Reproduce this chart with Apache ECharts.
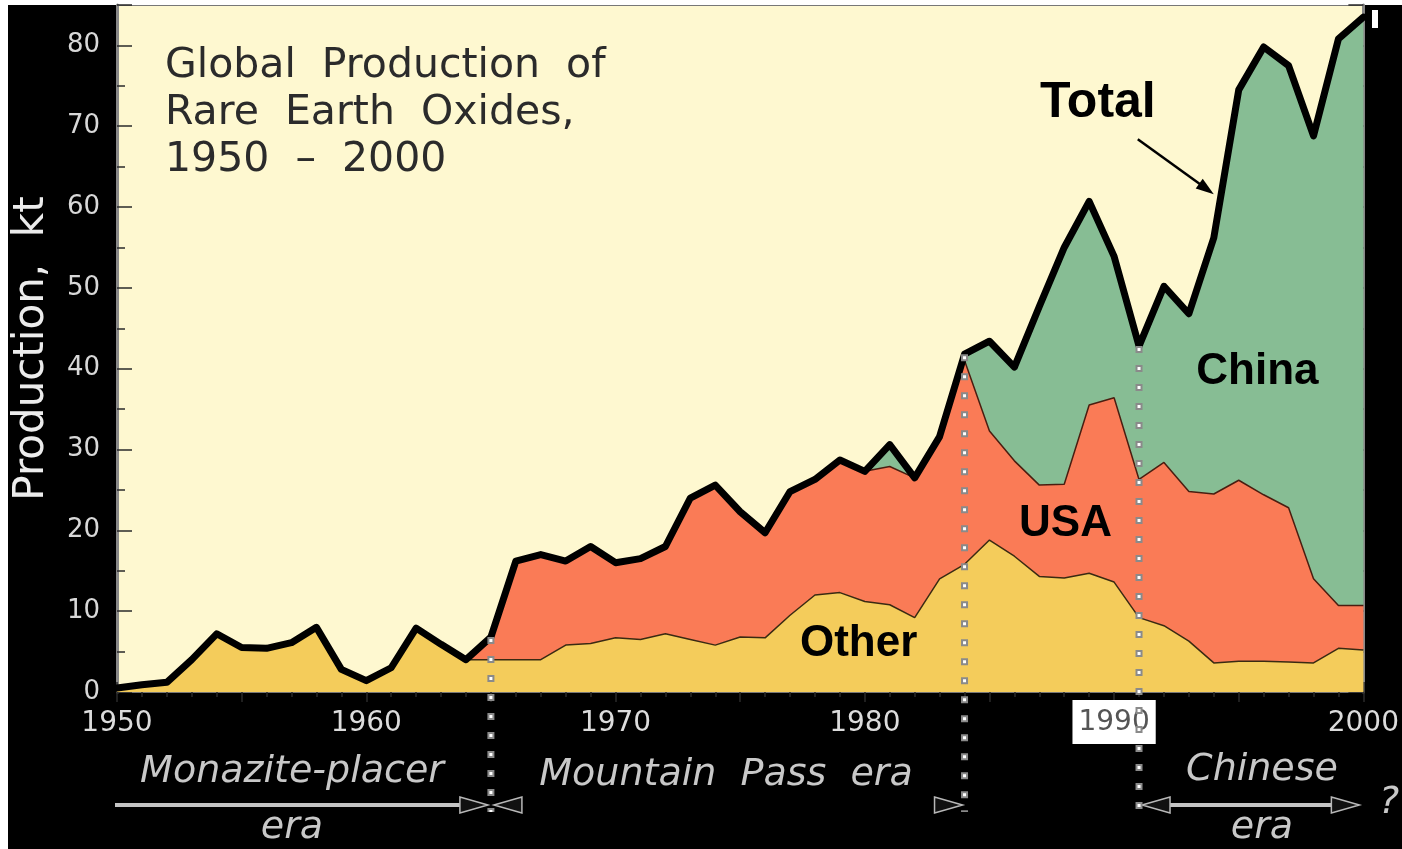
<!DOCTYPE html>
<html>
<head>
<meta charset="utf-8">
<script src="https://cdn.jsdelivr.net/npm/echarts@6/dist/echarts.min.js"></script>
<style>
  html, body { margin: 0; padding: 0; background: #fff; }
  #rare-earth { width: 1402px; height: 849px; }
</style>
</head>
<body>
<div id="rare-earth"></div>
<script>
  // years on the x axis
  let years = [1950, 1951, 1952, 1953, 1954, 1955, 1956, 1957, 1958, 1959,
               1960, 1961, 1962, 1963, 1964, 1965, 1966, 1967, 1968, 1969,
               1970, 1971, 1972, 1973, 1974, 1975, 1976, 1977, 1978, 1979,
               1980, 1981, 1982, 1983, 1984, 1985, 1986, 1987, 1988, 1989,
               1990, 1991, 1992, 1993, 1994, 1995, 1996, 1997, 1998, 1999, 2000];

  // production in kt
  let otherProd = [0.5, 0.9, 1.2, 4.0, 7.2, 5.5, 5.4, 6.1, 8.0, 2.8,
                   1.4, 3.0, 7.9, 5.9, 4.0, 4.0, 4.0, 4.0, 5.8, 6.0,
                   6.7, 6.5, 7.2, 6.5, 5.8, 6.8, 6.7, 9.5, 12.0, 12.3,
                   11.2, 10.8, 9.2, 14.0, 15.8, 18.8, 16.8, 14.3, 14.1, 14.7,
                   13.6, 9.2, 8.2, 6.3, 3.6, 3.8, 3.8, 3.7, 3.6, 5.4, 5.2];
  let usaProd = [0, 0, 0, 0, 0, 0, 0, 0, 0, 0,
                 0, 0, 0, 0, 0, 2.8, 12.2, 13.0, 10.4, 12.0,
                 9.3, 10.0, 10.8, 17.5, 19.8, 15.5, 13.0, 15.3, 14.3, 16.4,
                 16.1, 17.1, 17.3, 17.6, 25.2, 13.5, 11.8, 11.3, 11.6, 20.8,
                 22.8, 17.1, 20.2, 18.5, 20.9, 22.4, 20.6, 19.1, 10.4, 5.3, 5.5];
  let chinaProd = [0, 0, 0, 0, 0, 0, 0, 0, 0, 0,
                   0, 0, 0, 0, 0, 0, 0, 0, 0, 0,
                   0, 0, 0, 0, 0, 0, 0, 0, 0, 0,
                   0, 2.7, 0, 0, 0.8, 11.1, 11.6, 22.1, 29.3, 25.2,
                   17.5, 16.5, 21.8, 22.0, 31.7, 48.3, 55.4, 54.7, 54.8, 70.1, 72.8];
  let totalProd = [0.5, 0.9, 1.2, 4.0, 7.2, 5.5, 5.4, 6.1, 8.0, 2.8,
                   1.4, 3.0, 7.9, 5.9, 4.0, 6.8, 16.2, 17.0, 16.2, 18.0,
                   16.0, 16.5, 18.0, 24.0, 25.6, 22.3, 19.7, 24.8, 26.3, 28.7,
                   27.3, 30.6, 26.5, 31.6, 41.8, 43.4, 40.2, 47.7, 55.0, 60.7,
                   53.9, 42.8, 50.2, 46.8, 56.2, 74.5, 79.8, 77.5, 68.8, 80.8, 83.5];

  // era boundaries (years) and where the series names sit [year, kt]
  let eraYears = [1965, 1984, 1991];
  let seriesLabels = [
    { text: 'Total', at: [1989.35, 72.9], size: 50 },
    { text: 'China', at: [1995.75, 39.6], size: 44 },
    { text: 'USA', at: [1988.05, 20.8], size: 44 },
    { text: 'Other', at: [1979.75, 5.9], size: 44 }
  ];
  let totalArrow = [[1990.95, 68.4], [1994.0, 61.6]];

  let chart = echarts.init(document.getElementById('rare-earth'));

  let tickStyle = { color: '#2a2a2a', width: 1.5 };

  // value axes only carry the ticks and labels, the series sit on a category axis
  let xAxisBase = {
    type: 'value',
    min: 1950,
    max: 2000,
    interval: 5,
    splitLine: { show: false },
    axisLine: { lineStyle: { color: '#777', width: 2 } },
    axisTick: { inside: true, length: 10, lineStyle: tickStyle },
    minorTick: { show: true, splitNumber: 5, length: 5, lineStyle: tickStyle },
    minorSplitLine: { show: false }
  };

  let yAxisBase = {
    type: 'value',
    min: 0,
    max: 85,
    interval: 10,
    splitLine: { show: false },
    axisLine: { show: true, lineStyle: { color: '#888', width: 3 } },
    axisTick: { inside: true, length: 15, lineStyle: tickStyle },
    minorTick: { show: true, splitNumber: 2, length: 8, lineStyle: tickStyle },
    minorSplitLine: { show: false }
  };

  let areaSeries = (name, vals, fill, lineColor, lineWidth) => ({
    name: name,
    type: 'line',
    xAxisIndex: 2,
    stack: 'prod',
    showSymbol: false,
    data: vals,
    lineStyle: { color: lineColor, width: lineWidth },
    areaStyle: { color: fill, opacity: 1 },
    z: 2
  });

  let option = {
    backgroundColor: '#000',
    animation: false,
    title: {
      text: 'Global  Production  of\nRare  Earth  Oxides,\n1950  \u2013  2000',
      left: 160,
      top: 38,
      textStyle: {
        fontFamily: 'DejaVu Sans',
        fontSize: 41,
        fontWeight: 'normal',
        color: '#2b2b2b',
        lineHeight: 47
      }
    },
    grid: {
      left: 117,
      right: 32,
      top: 5,
      bottom: 157,
      show: true,
      backgroundColor: '#fef8d0',
      borderColor: '#777',
      borderWidth: 2
    },
    xAxis: [
      Object.assign({}, xAxisBase, {
        position: 'bottom',
        axisLabel: {
          margin: 8,
          color: '#dcdcdc',
          fontFamily: 'DejaVu Sans',
          fontSize: 28,
          formatter: (v) => {
            if (v % 10 !== 0) return '';
            return v === 1990 ? '{box|' + v + '}' : '{n|' + v + '}';
          },
          rich: {
            n: {
              color: '#dcdcdc',
              fontFamily: 'DejaVu Sans',
              fontSize: 28,
              padding: [10, 0, 0, 0]
            },
            box: {
              backgroundColor: '#fff',
              color: '#555',
              fontFamily: 'DejaVu Sans',
              fontSize: 28,
              padding: [9, 6, 7, 6]
            }
          }
        }
      }),
      Object.assign({}, xAxisBase, {
        position: 'top',
        axisLabel: { show: false }
      }),
      {
        type: 'category',
        data: years,
        boundaryGap: false,
        show: false
      }
    ],
    yAxis: [
      Object.assign({}, yAxisBase, {
        position: 'left',
        name: 'Production,  kt',
        nameLocation: 'middle',
        nameGap: 64,
        nameTextStyle: {
          color: '#ececec',
          fontFamily: 'DejaVu Sans',
          fontSize: 42
        },
        axisLabel: {
          margin: 17,
          color: '#d8d8d8',
          fontFamily: 'DejaVu Sans',
          fontSize: 26,
          formatter: (v) => (v > 80 ? '' : v)
        }
      }),
      Object.assign({}, yAxisBase, {
        position: 'right',
        axisLabel: { show: false }
      })
    ],
    series: [
      areaSeries('Other', otherProd, '#f4cc5b', '#3a2a12', 1.5),
      areaSeries('USA', usaProd, '#fa7b56', '#4a1d10', 1.5),
      areaSeries('China', chinaProd, '#87bd94', '#1f3a26', 1),
      {
        name: 'Total',
        type: 'line',
        xAxisIndex: 2,
        showSymbol: false,
        data: totalProd,
        lineStyle: { color: '#000', width: 7, join: 'round', cap: 'round' },
        z: 5
      }
    ]
  };

  chart.setOption(option);

  // annotations placed through the chart's own scales
  let toPx = (pt) => chart.convertToPixel({ xAxisIndex: 0, yAxisIndex: 0 }, pt);
  let graphics = [];

  // white margin strips of the scanned figure
  graphics.push({ type: 'rect', shape: { x: 0, y: 0, width: 1402, height: 5 }, style: { fill: '#fff' }, z: 0 });
  graphics.push({ type: 'rect', shape: { x: 0, y: 0, width: 8, height: 849 }, style: { fill: '#fff' }, z: 0 });
  graphics.push({ type: 'rect', shape: { x: 1372, y: 10, width: 6, height: 18 }, style: { fill: '#fff' }, z: 100 });

  seriesLabels.forEach((lab) => {
    let p = toPx(lab.at);
    graphics.push({
      type: 'text',
      z: 100,
      style: {
        text: lab.text,
        x: p[0],
        y: p[1],
        fill: '#000',
        font: 'bold ' + lab.size + 'px "Liberation Sans", Arial, sans-serif',
        align: 'center',
        verticalAlign: 'middle',
        textAlign: 'center',
        textVerticalAlign: 'middle'
      }
    });
  });

  // arrow from "Total" to the curve
  let a0 = toPx(totalArrow[0]);
  let a1 = toPx(totalArrow[1]);
  let dx = a1[0] - a0[0], dy = a1[1] - a0[1];
  let len = Math.sqrt(dx * dx + dy * dy);
  let ux = dx / len, uy = dy / len;
  graphics.push({
    type: 'line', z: 100,
    shape: { x1: a0[0], y1: a0[1], x2: a1[0] - ux * 10, y2: a1[1] - uy * 10 },
    style: { stroke: '#000', lineWidth: 2.5 }
  });
  graphics.push({
    type: 'polygon', z: 100,
    shape: {
      points: [
        [a1[0], a1[1]],
        [a1[0] - ux * 18 - uy * 6, a1[1] - uy * 18 + ux * 6],
        [a1[0] - ux * 18 + uy * 6, a1[1] - uy * 18 - ux * 6]
      ]
    },
    style: { fill: '#000' }
  });

  // dotted era separators, from the total curve down below the axis
  eraYears.forEach((yr) => {
    let top = toPx([yr, totalProd[years.indexOf(yr)]]);
    graphics.push({
      type: 'line', z: 101,
      shape: { x1: top[0], y1: top[1], x2: top[0], y2: 812 },
      style: { stroke: '#8a8a8a', lineWidth: 7, lineDash: [7, 12] }
    });
    graphics.push({
      type: 'line', z: 102,
      shape: { x1: top[0], y1: top[1] + 2, x2: top[0], y2: 812 },
      style: { stroke: '#fff', lineWidth: 3, lineDash: [3, 16] }
    });
  });

  // era captions and arrows under the axis
  let xStart = toPx([1950, 0])[0];
  let xEnd = toPx([2000, 0])[0];
  let xMonazite = toPx([eraYears[0], 0])[0];
  let xMountain = toPx([eraYears[1], 0])[0];
  let xChinese = toPx([eraYears[2], 0])[0];
  let arrowY = 805;

  let head = (tipX, dir) => ({
    type: 'polygon', z: 100,
    shape: { points: [[tipX, arrowY], [tipX - dir * 28, arrowY - 8], [tipX - dir * 28, arrowY + 8]] },
    style: { fill: '#111', stroke: '#b8b8b8', lineWidth: 1.5 }
  });
  let eraText = (text, x, y) => ({
    type: 'text', z: 100,
    style: {
      text: text, x: x, y: y,
      fill: '#c8c8c8',
      font: 'italic 38px "DejaVu Sans", sans-serif',
      align: 'center', verticalAlign: 'middle',
      textAlign: 'center', textVerticalAlign: 'middle'
    }
  });
  let bar = (x1, x2) => ({
    type: 'line', z: 99,
    shape: { x1: x1, y1: arrowY, x2: x2, y2: arrowY },
    style: { stroke: '#c4c4c4', lineWidth: 4 }
  });

  graphics.push(bar(xStart - 2, xMonazite - 28));
  graphics.push(head(xMonazite - 3, 1));
  graphics.push(head(xMonazite + 3, -1));
  graphics.push(head(xMountain - 2, 1));
  graphics.push(head(xChinese + 3, -1));
  graphics.push(bar(xChinese + 31, xEnd - 32));
  graphics.push(head(xEnd - 4, 1));

  graphics.push(eraText('Monazite-placer', 292, 772));
  graphics.push(eraText('era', 292, 828));
  graphics.push(eraText('Mountain  Pass  era', 726, 775));
  graphics.push(eraText('Chinese', 1262, 770));
  graphics.push(eraText('era', 1262, 828));
  graphics.push(eraText('?', 1389, 803));

  chart.setOption({ graphic: graphics });
</script>
</body>
</html>
